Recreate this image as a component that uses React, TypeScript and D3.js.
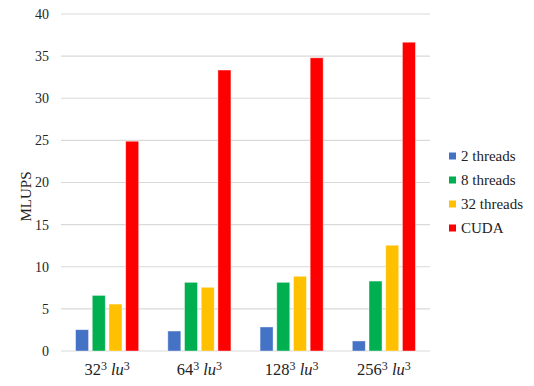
import React from "react";
import * as d3 from "d3";

const categories = ["32", "64", "128", "256"];
const seriesNames = ["2 threads", "8 threads", "32 threads", "CUDA"];
const seriesColors = ["#4472C4", "#00B050", "#FFC000", "#FF0000"];
const threads2 = [2.53, 2.37, 2.85, 1.19];
const threads8 = [6.6, 8.15, 8.15, 8.3];
const threads32 = [5.57, 7.56, 8.87, 12.55];
const cuda = [24.9, 33.35, 34.8, 36.65];
const yTicks = [0, 5, 10, 15, 20, 25, 30, 35, 40];

const seriesValues = [threads2, threads8, threads32, cuda];

export default function App() {
  const W = 534, H = 386;
  const left = 61, right = 430, top = 14, bottom = 351;
  const x = d3.scaleBand<string>().domain(categories).range([left, right]).paddingInner(0).paddingOuter(0);
  const y = d3.scaleLinear().domain([0, 40]).range([bottom, top]);
  const barW = 13;
  const step = 16.7;
  const font = "Liberation Serif";
  return (
    <svg width={W} height={H} style={{ position: "absolute", left: 0, top: 0, background: "#fff" }}>
      {yTicks.map((t) => (
        <g key={t}>
          <line x1={left} x2={right} y1={y(t)} y2={y(t)} stroke="#d9d9d9" strokeWidth={1.2} />
          <text x={49} y={y(t)} dy="0.35em" textAnchor="end" style={{ fontFamily: font }} fontSize={14} fill="#262626">
            {t}
          </text>
        </g>
      ))}
      <text transform={`translate(31,${(top + bottom) / 2 + 14}) rotate(-90)`} textAnchor="middle" style={{ fontFamily: font }} fontSize={15} fill="#222">
        MLUPS
      </text>
      {categories.map((c, ci) => {
        const cx = (x(c) as number) + x.bandwidth() / 2;
        return (
          <g key={c}>
            {seriesValues.map((vals, si) => {
              const bx = cx + (si - 1.5) * step - barW / 2;
              return (
                <rect
                  key={si}
                  x={bx}
                  y={y(vals[ci])}
                  width={barW}
                  height={y(0) - y(vals[ci])}
                  fill={seriesColors[si]}
                  stroke="#ffffff"
                  strokeOpacity={0.5}
                  strokeWidth={0.8}
                />
              );
            })}
            <text x={cx} y={375} textAnchor="middle" style={{ fontFamily: font }} fontSize={16.5} fill="#222">
              <tspan>{c}</tspan>
              <tspan dy={-5} fontSize={12}>3</tspan>
              <tspan dy={5} fontStyle="italic"> lu</tspan>
              <tspan dy={-5} fontSize={12}>3</tspan>
            </text>
          </g>
        );
      })}
      {seriesNames.map((n, i) => (
        <g key={n} transform={`translate(449,${156 + i * 24})`}>
          <rect x={0} y={-3.5} width={7} height={7} fill={seriesColors[i]} />
          <text x={12} y={0} dy="0.35em" style={{ fontFamily: font }} fontSize={15} fill="#222">
            {n}
          </text>
        </g>
      ))}
    </svg>
  );
}
